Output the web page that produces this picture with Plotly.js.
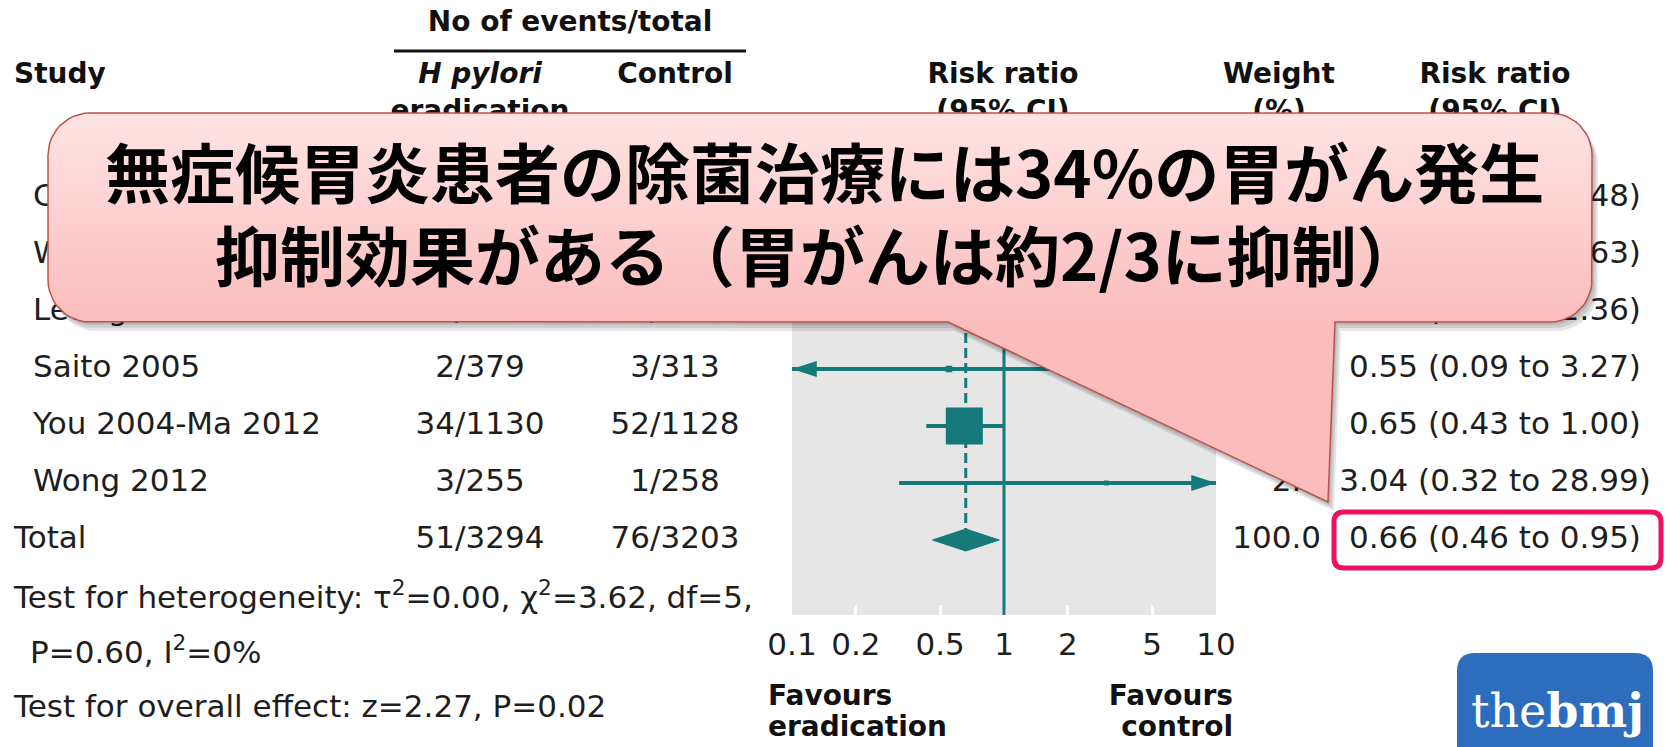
<!DOCTYPE html>
<html>
<head>
<meta charset="utf-8">
<script src="https://cdn.plot.ly/plotly-3.0.1.min.js"></script>
<style>
  html, body { margin: 0; padding: 0; background: #fff; }
  #chart { width: 1671px; height: 747px; }
</style>
</head>
<body>
<div id="chart"></div>
<script>
// ---- Study data -----------------------------------------------------------
const studies     = ['Correa 2000', 'Wong 2004', 'Leung 2004', 'Saito 2005', 'You 2004-Ma 2012', 'Wong 2012'];
const eradEvents  = [2, 7, 3, 2, 34, 3];
const eradTotal   = [437, 817, 276, 379, 1130, 255];
const ctrlEvents  = [3, 11, 6, 3, 52, 1];
const ctrlTotal   = [415, 813, 276, 313, 1128, 258];
const riskRatio   = [0.63, 0.63, 0.50, 0.55, 0.65, 3.04];
const ciLow       = [0.11, 0.25, 0.11, 0.09, 0.43, 0.32];
const ciHigh      = [3.48, 1.63, 2.36, 3.27, 1.00, 28.99];
const weightPct   = [3.9, 14.0, 6.6, 3.9, 69.2, 2.4];

// Pooled estimate
const totalLabel  = 'Total';
const totalErad   = [51, 3294];
const totalCtrl   = [76, 3203];
const totalRR     = 0.66;
const totalLow    = 0.46;
const totalHigh   = 0.95;
const totalWeight = 100.0;

// Axis ticks
const tickVals = [0.1, 0.2, 0.5, 1, 2, 5, 10];
const tickText = ['0.1', '0.2', '0.5', '1', '2', '5', '10'];

// ---- Page geometry ---------------------------------------------------------
const W = 1671, H = 747;
const ROW0 = 198, PITCH = 57;                 // first row centre, row pitch (px)
const rowOf = px => (px - ROW0) / PITCH;      // page pixel -> row units
const PLOT_L = 792, PLOT_R = 1216, PLOT_T = 168, PLOT_B = 615;

const TEAL = '#15797a';
const INK = '#1e1e1e';
const BODY = { family: 'DejaVu Sans, sans-serif', size: 31, color: INK };
const HEAD = { family: 'DejaVu Sans, sans-serif', size: 28, color: '#111', weight: 'bold' };

const fmt2 = v => v.toFixed(2);
const ciText = (r, l, h) => `${fmt2(r)} (${fmt2(l)} to ${fmt2(h)})`;
const n = studies.length;
const rows = studies.map((_, i) => i);
const totalRow = n;

const traces = [];

// ---- Forest panel (x / y) ------------------------------------------------
const xMin = tickVals[0], xMax = tickVals[tickVals.length - 1];
const diamondHalf = 11 / PITCH;

// line of no effect
traces.push({
  x: [1, 1], y: [rowOf(PLOT_T), rowOf(PLOT_B)], xaxis: 'x', yaxis: 'y',
  mode: 'lines', line: { color: TEAL, width: 3 }, hoverinfo: 'skip'
});
// pooled estimate guide
traces.push({
  x: [totalRR, totalRR], y: [rowOf(PLOT_T), totalRow - diamondHalf], xaxis: 'x', yaxis: 'y',
  mode: 'lines', line: { color: TEAL, width: 3, dash: '10px,5px' }, hoverinfo: 'skip'
});
// confidence intervals
const ciX = [], ciY = [];
rows.forEach(i => {
  ciX.push(Math.max(ciLow[i], xMin), Math.min(ciHigh[i], xMax), null);
  ciY.push(i, i, null);
});
traces.push({
  x: ciX, y: ciY, xaxis: 'x', yaxis: 'y', mode: 'lines',
  line: { color: TEAL, width: 4 }, hoverinfo: 'skip', connectgaps: false
});
// arrowheads where an interval runs off the axis
const arX = [], arY = [], arA = [];
rows.forEach(i => {
  if (ciLow[i] < xMin) { arX.push(xMin); arY.push(i); arA.push(-90); }
  if (ciHigh[i] > xMax) { arX.push(xMax); arY.push(i); arA.push(90); }
});
traces.push({
  x: arX, y: arY, xaxis: 'x', yaxis: 'y', mode: 'markers', cliponaxis: false,
  marker: { symbol: 'arrow', size: 26, angle: arA, color: TEAL, opacity: 1, line: { width: 0 } },
  hoverinfo: 'skip'
});
// study boxes sized by weight
const maxW = Math.max(...weightPct);
traces.push({
  x: riskRatio, y: rows, xaxis: 'x', yaxis: 'y', mode: 'markers',
  marker: {
    symbol: 'square', color: TEAL, opacity: 1, line: { width: 0 },
    size: weightPct.map(w => 37 * Math.pow(w / maxW, 0.6))
  },
  hoverinfo: 'skip'
});
// pooled diamond
traces.push({
  x: [totalLow, totalRR, totalHigh, totalRR, totalLow],
  y: [totalRow, totalRow - diamondHalf, totalRow, totalRow + diamondHalf, totalRow],
  xaxis: 'x', yaxis: 'y', mode: 'lines', fill: 'toself', fillcolor: TEAL,
  line: { color: TEAL, width: 1 }, hoverinfo: 'skip'
});

// ---- Table text (x2 / y2) ------------------------------------------------
function textTrace(xs, ys, texts, pos, font) {
  traces.push({
    x: xs, y: ys, text: texts, xaxis: 'x2', yaxis: 'y2', mode: 'text',
    textposition: pos, textfont: font, cliponaxis: false, hoverinfo: 'skip'
  });
}
const COL_STUDY = 33, COL_LEFT = 14, COL_ERAD = 480, COL_CTRL = 675,
      COL_RR = 1003, COL_WEIGHT_R = 1321, COL_W_HEAD = 1279, COL_CI = 1495;

// headers
textTrace([570], [rowOf(24)], ['No of events/total'], 'middle center', HEAD);
textTrace([COL_LEFT], [rowOf(76)], ['Study'], 'middle right', HEAD);
textTrace([COL_ERAD], [rowOf(76)], ['H pylori'], 'middle center', Object.assign({}, HEAD, { style: 'italic' }));
textTrace([COL_ERAD], [rowOf(113)], ['eradication'], 'middle center', HEAD);
textTrace([COL_CTRL, COL_RR, COL_W_HEAD, COL_CI], Array(4).fill(rowOf(76)),
          ['Control', 'Risk ratio', 'Weight', 'Risk ratio'], 'middle center', HEAD);
textTrace([COL_RR, COL_W_HEAD, COL_CI], Array(3).fill(rowOf(113)),
          ['(95% CI)', '(%)', '(95% CI)'], 'middle center', HEAD);

// study rows
textTrace(rows.map(() => COL_STUDY), rows, studies, 'middle right', BODY);
textTrace(rows.map(() => COL_ERAD), rows, rows.map(i => eradEvents[i] + '/' + eradTotal[i]), 'middle center', BODY);
textTrace(rows.map(() => COL_CTRL), rows, rows.map(i => ctrlEvents[i] + '/' + ctrlTotal[i]), 'middle center', BODY);
textTrace(rows.map(() => COL_WEIGHT_R), rows, weightPct.map(w => w.toFixed(1)), 'middle left', BODY);
textTrace(rows.map(() => COL_CI), rows, rows.map(i => ciText(riskRatio[i], ciLow[i], ciHigh[i])), 'middle center', BODY);

// total row
textTrace([COL_LEFT], [totalRow], [totalLabel], 'middle right', BODY);
textTrace([COL_ERAD, COL_CTRL], [totalRow, totalRow],
          [totalErad.join('/'), totalCtrl.join('/')], 'middle center', BODY);
textTrace([COL_WEIGHT_R], [totalRow], [totalWeight.toFixed(1)], 'middle left', BODY);
textTrace([COL_CI], [totalRow], [ciText(totalRR, totalLow, totalHigh)], 'middle center', BODY);

// footnotes
textTrace([COL_LEFT, 30, COL_LEFT], [rowOf(600), rowOf(655), rowOf(709)], [
  'Test for heterogeneity: \u03c4<sup>2</sup>=0.00, \u03c7<sup>2</sup>=3.62, df=5,',
  'P=0.60, I<sup>2</sup>=0%',
  'Test for overall effect: z=2.27, P=0.02'
], 'middle right', BODY);

// favours labels under the axis
textTrace([768, 768], [rowOf(698), rowOf(729)], ['Favours', 'eradication'], 'middle right', HEAD);
textTrace([1233, 1233], [rowOf(698), rowOf(729)], ['Favours', 'control'], 'middle left', HEAD);

// ---- Speech balloon (x3 / y3, page pixels) ------------------------------
const balloon = { x0: 48, y0: 113, x1: 1592, y1: 322, r: 42,
                  tailLeft: 948, tailRight: 1335, tip: [1328, 502] };
function balloonOutline(b, dx, dy) {
  const pts = [];
  const arc = (cx, cy, a0, a1) => {
    for (let k = 0; k <= 12; k++) {
      const a = a0 + (a1 - a0) * k / 12;
      pts.push([cx + b.r * Math.cos(a) + dx, cy + b.r * Math.sin(a) + dy]);
    }
  };
  arc(b.x1 - b.r, b.y0 + b.r, -Math.PI / 2, 0);
  arc(b.x1 - b.r, b.y1 - b.r, 0, Math.PI / 2);
  pts.push([b.tailRight + dx, b.y1 + dy], [b.tip[0] + dx, b.tip[1] + dy], [b.tailLeft + dx, b.y1 + dy]);
  arc(b.x0 + b.r, b.y1 - b.r, Math.PI / 2, Math.PI);
  arc(b.x0 + b.r, b.y0 + b.r, Math.PI, 1.5 * Math.PI);
  pts.push(pts[0]);
  return { x: pts.map(p => p[0]), y: pts.map(p => p[1]) };
}
// soft drop shadow
[[2, 3], [4, 6], [6, 9]].forEach(([dx, dy]) => {
  const o = balloonOutline(balloon, dx, dy);
  traces.push({
    x: o.x, y: o.y, xaxis: 'x3', yaxis: 'y3', mode: 'lines', fill: 'toself',
    fillcolor: 'rgba(0,0,0,0.10)', line: { width: 0 }, hoverinfo: 'skip'
  });
});
const body = balloonOutline(balloon, 0, 0);
traces.push({
  x: body.x, y: body.y, xaxis: 'x3', yaxis: 'y3', mode: 'lines', fill: 'toself',
  fillcolor: '#fdd0d0',
  fillgradient: { type: 'vertical', start: balloon.y0, stop: balloon.y1,
                  colorscale: [[0, '#ffe4e4'], [1, '#fbbcbc']] },
  line: { color: '#c0504d', width: 1.5 }, hoverinfo: 'skip'
});

// ---- Layout ----------------------------------------------------------------
function roundRect(x0, y0, x1, y1, r) {
  return `M${x0 + r},${y0} H${x1 - r} Q${x1},${y0} ${x1},${y0 + r} V${y1 - r} Q${x1},${y1} ${x1 - r},${y1} ` +
         `H${x0 + r} Q${x0},${y1} ${x0},${y1 - r} V${y0 + r} Q${x0},${y0} ${x0 + r},${y0} Z`;
}
const logo = { x0: 1457, x1: 1653, y0: 653, r: 18 };
const CJK = { family: 'Noto Sans CJK JP, sans-serif', size: 65, color: '#000', weight: 'bold' };

const layout = {
  width: W, height: H,
  margin: { l: 0, r: 0, t: 0, b: 0, pad: 0 },
  paper_bgcolor: '#ffffff', plot_bgcolor: 'rgba(0,0,0,0)',
  showlegend: false,
  xaxis: {
    type: 'log', domain: [PLOT_L / W, PLOT_R / W], range: [Math.log10(xMin), Math.log10(xMax)],
    anchor: 'y', tickvals: tickVals, ticktext: tickText,
    ticks: 'inside', ticklen: 10, tickwidth: 3, tickcolor: '#ffffff',
    showgrid: false, zeroline: false, showline: false, layer: 'below traces',
    tickfont: BODY, ticklabelstandoff: 8, fixedrange: true
  },
  yaxis: {
    domain: [1 - PLOT_B / H, 1 - PLOT_T / H], range: [rowOf(PLOT_B), rowOf(PLOT_T)],
    anchor: 'x', visible: false, fixedrange: true
  },
  xaxis2: { domain: [0, 1], range: [0, W], anchor: 'y2', visible: false, fixedrange: true },
  yaxis2: { domain: [0, 1], range: [rowOf(H), rowOf(0)], anchor: 'x2', visible: false, fixedrange: true },
  xaxis3: { overlaying: 'x2', range: [0, W], anchor: 'y3', visible: false, fixedrange: true },
  yaxis3: { overlaying: 'y2', range: [H, 0], anchor: 'x3', visible: false, fixedrange: true },
  shapes: [
    // grey panel behind the forest plot
    { type: 'rect', xref: 'x domain', yref: 'y domain', x0: 0, x1: 1, y0: 0, y1: 1,
      fillcolor: '#e6e6e6', line: { width: 0 }, layer: 'below' },
    // rule under the "No of events/total" header
    { type: 'line', xref: 'x2', yref: 'paper', x0: 394, x1: 746, y0: 1 - 51 / H, y1: 1 - 51 / H,
      line: { color: '#111', width: 3 }, layer: 'below' },
    // highlight around the pooled estimate
    { type: 'path', xref: 'x3', yref: 'y3', path: roundRect(1334, 512, 1661, 568, 10),
      line: { color: '#ee1163', width: 5 }, fillcolor: 'rgba(0,0,0,0)', layer: 'above' },
    // journal badge
    { type: 'path', xref: 'x3', yref: 'y3',
      path: `M${logo.x0},${H + 10} V${logo.y0 + logo.r} Q${logo.x0},${logo.y0} ${logo.x0 + logo.r},${logo.y0} ` +
            `H${logo.x1 - logo.r} Q${logo.x1},${logo.y0} ${logo.x1},${logo.y0 + logo.r} V${H + 10} Z`,
      fillcolor: '#2c6dbd', line: { width: 0 }, layer: 'above' }
  ],
  annotations: [
    { xref: 'x3', yref: 'y3', x: 824, y: 170, showarrow: false, xanchor: 'center', yanchor: 'middle',
      text: '無症候胃炎患者の除菌治療には34%の胃がん発生', font: CJK },
    { xref: 'x3', yref: 'y3', x: 818, y: 253, showarrow: false, xanchor: 'center', yanchor: 'middle',
      text: '抑制効果がある（胃がんは約2/3に抑制）', font: CJK },
    { xref: 'x3', yref: 'y3', x: 1557, y: 711, showarrow: false, xanchor: 'center', yanchor: 'middle',
      text: 'the<b>bmj</b>',
      font: { family: 'DejaVu Serif, serif', size: 46, color: '#ffffff' } }
  ]
};

Plotly.newPlot('chart', traces, layout, { staticPlot: true, displayModeBar: false });
</script>
</body>
</html>
